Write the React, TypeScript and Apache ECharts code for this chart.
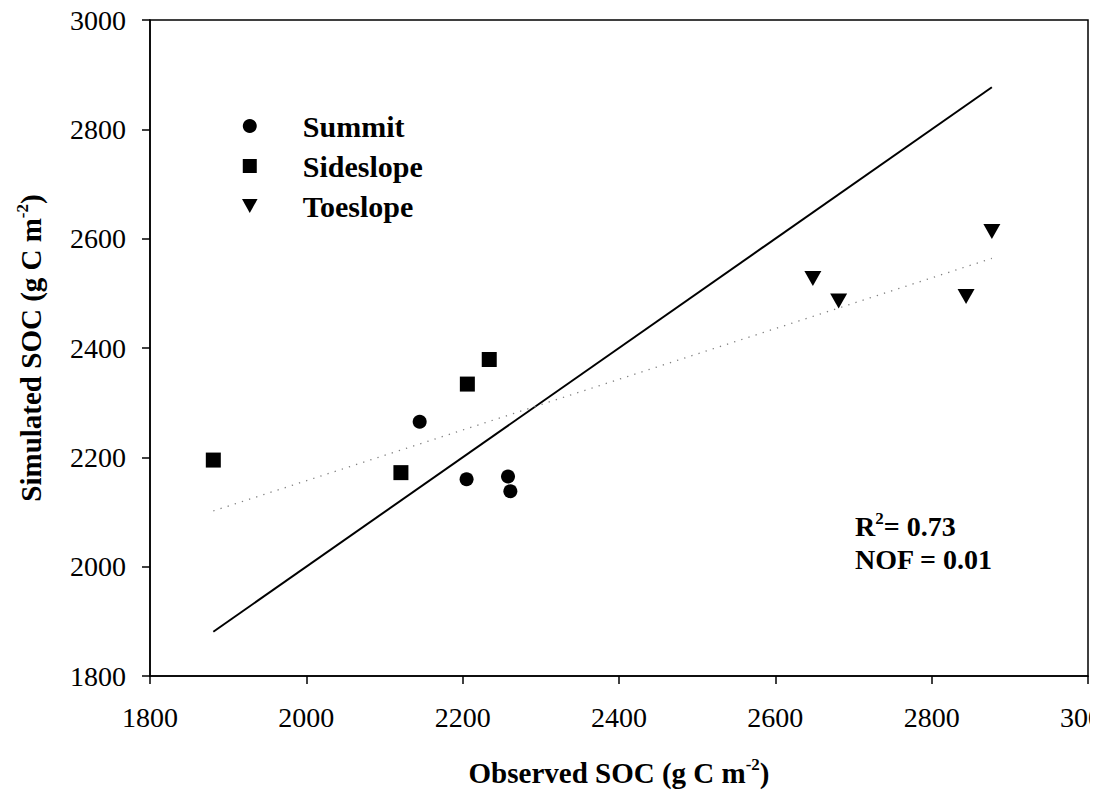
import React, { useEffect, useRef } from "react";
import * as echarts from "echarts";

const FONT = "'Times New Roman', 'Liberation Serif', serif";

const seriesNames = ["Summit", "Sideslope", "Toeslope"];
const summit = [
  [2145, 2265],
  [2205, 2160],
  [2258, 2165],
  [2261, 2138],
];
const sideslope = [
  [1881, 2195],
  [2121, 2172],
  [2206, 2334],
  [2234, 2379],
];
const toeslope = [
  [2648, 2527],
  [2681, 2486],
  [2844, 2494],
  [2877, 2613],
];
const oneToOneLine = [
  [1881, 1881],
  [2877, 2877],
];
const regressionLine = [
  [1881, 2102],
  [2877, 2564],
];
const axisMin = 1800;
const axisMax = 3000;
const axisStep = 200;
const statsLines = ["R", "2", "= 0.73", "NOF = 0.01"];

const TRI = "path://M0,0 L10,0 L5,9 Z";
const SQUARE = "path://M0,0 L10,0 L10,10 L0,10 Z";

export default function App() {
  const ref = useRef<HTMLDivElement>(null);
  useEffect(() => {
    if (!ref.current) return;
    const chart = echarts.init(ref.current, null, { renderer: "svg" });
    const axisCommon = {
      type: "value",
      min: axisMin,
      max: axisMax,
      interval: axisStep,
      splitLine: { show: false },
      axisLine: { show: true, lineStyle: { color: "#000", width: 1.5 } },
      axisTick: { show: true, inside: false, length: 8, lineStyle: { color: "#000", width: 1.5 } },
      nameLocation: "middle",
    };
    const nameRich = {
      b: { fontSize: 29, fontWeight: "bold", fontFamily: FONT, color: "#000", lineHeight: 34 },
      s: { fontSize: 17, fontWeight: "bold", fontFamily: FONT, color: "#000", verticalAlign: "top" },
    };
    const labelStyle = {
      fontSize: 28,
      fontFamily: FONT,
      color: "#000",
      formatter: (v: number) => String(v),
    };
    chart.setOption({
      animation: false,
      backgroundColor: "#fff",
      grid: {
        left: 150,
        right: 11,
        top: 20,
        bottom: 119,
        show: true,
        borderColor: "#000",
        borderWidth: 1.5,
        containLabel: false,
        outerBoundsMode: "none",
      },
      legend: {
        data: seriesNames,
        orient: "vertical",
        left: 242,
        top: 111,
        padding: 0,
        itemWidth: 96,
        itemHeight: 14,
        itemGap: 10,
        textStyle: { fontSize: 30, fontWeight: "bold", fontFamily: FONT, color: "#000", lineHeight: 30 },
      },
      xAxis: {
        ...axisCommon,
        name: "{b|Observed SOC (g C m}{s|-2}{b|)}",
        nameGap: 80,
        nameTextStyle: { rich: nameRich },
        axisLabel: { ...labelStyle, margin: 27 },
      },
      yAxis: {
        ...axisCommon,
        name: "{b|Simulated SOC (g C m}{s|-2}{b|)}",
        nameGap: 102,
        nameTextStyle: { rich: nameRich },
        axisLabel: { ...labelStyle, margin: 24 },
      },
      graphic: [
        {
          type: "text",
          left: 855,
          top: 510,
          style: {
            text: `{b|${statsLines[0]}}{s|${statsLines[1]}}{b|${statsLines[2]}}\n{b|${statsLines[3]}}`,
            rich: {
              b: { fontSize: 28, fontWeight: "bold", fontFamily: FONT, fill: "#000", lineHeight: 33 },
              s: { fontSize: 17, fontWeight: "bold", fontFamily: FONT, fill: "#000", verticalAlign: "top" },
            },
          },
        },
        {
          type: "rect",
          shape: { x: 1090, y: 688, width: 9, height: 60 },
          style: { fill: "#fff" },
          z: 100,
        },
      ],
      series: [
        {
          name: "1:1",
          type: "line",
          data: oneToOneLine,
          symbol: "none",
          lineStyle: { color: "#000", width: 2 },
          z: 1,
        },
        {
          name: "fit",
          type: "line",
          data: regressionLine,
          symbol: "none",
          lineStyle: { color: "#808080", width: 1.3, type: [1.3, 6.2] },
          z: 1,
        },
        {
          name: "Summit",
          type: "scatter",
          data: summit,
          symbol: "circle",
          symbolSize: 14,
          itemStyle: { color: "#000", opacity: 1 },
          z: 3,
        },
        {
          name: "Sideslope",
          type: "scatter",
          data: sideslope,
          symbol: SQUARE,
          symbolSize: 15,
          itemStyle: { color: "#000", opacity: 1 },
          z: 3,
        },
        {
          name: "Toeslope",
          type: "scatter",
          data: toeslope,
          symbol: TRI,
          symbolSize: [17, 15],
          itemStyle: { color: "#000", opacity: 1 },
          z: 3,
        },
      ],
    });
    return () => chart.dispose();
  }, []);
  return (
    <div
      ref={ref}
      style={{ position: "absolute", left: 0, top: 0, width: 1099, height: 795, background: "#fff" }}
    />
  );
}
